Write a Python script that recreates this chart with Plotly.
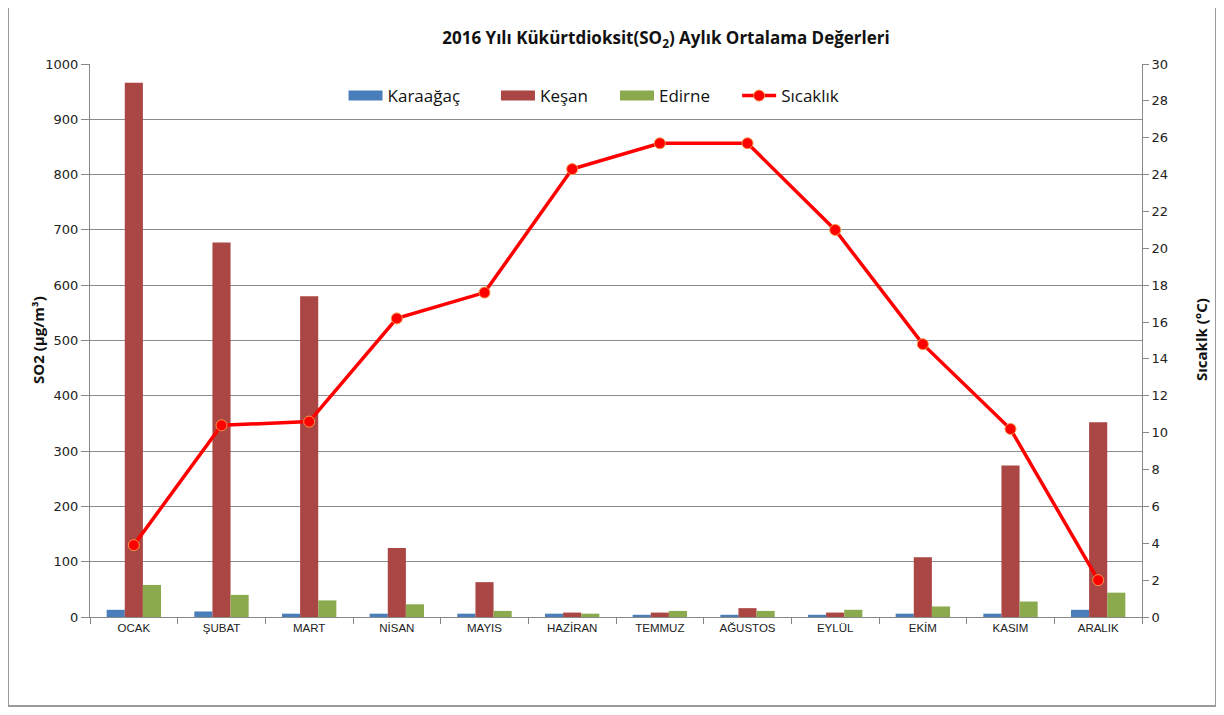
import plotly.graph_objects as go

months = ["OCAK", "ŞUBAT", "MART", "NİSAN", "MAYIS", "HAZİRAN", "TEMMUZ",
          "AĞUSTOS", "EYLÜL", "EKİM", "KASIM", "ARALIK"]
karaagac = [13, 10, 6, 6, 6, 6, 4, 4, 4, 6, 6, 13]
kesan = [966, 677, 580, 125, 63, 8, 8, 16, 8, 108, 274, 352]
edirne = [58, 40, 30, 23, 11, 6, 11, 11, 13, 19, 28, 44]
sicaklik = [3.9, 10.4, 10.6, 16.2, 17.6, 24.3, 25.7, 25.7, 21.0, 14.8, 10.2, 2.0]

left_ticks = list(range(0, 1001, 100))
right_ticks = list(range(0, 31, 2))

NB = "\u00a0"
series = [("Karaağaç", karaagac, "#4A7EBB", 7),
          ("Keşan", kesan, "#AA4643", 5),
          ("Edirne", edirne, "#8BAA4E", 5)]

fig = go.Figure()
for name, vals, col, pad in series:
    fig.add_trace(go.Bar(x=months, y=vals, name=name, marker_color=col,
                         marker_line_width=0, showlegend=False, legendgroup=name))
# legend swatches (wide rectangles like the reference)
for name, vals, col, pad in series:
    fig.add_trace(go.Scatter(x=[months[0]], y=[None], name=name + NB * pad, mode="lines",
                             line=dict(color=col, width=10), legendgroup=name))
fig.add_trace(go.Scatter(x=months, y=sicaklik, name="Sıcaklık", yaxis="y2",
                         mode="lines+markers",
                         line=dict(color="#FF0000", width=3.5),
                         marker=dict(size=11, color="#FF0000",
                                     line=dict(color="#F79646", width=1))))

axis_font = dict(family="DejaVu Sans", size=13, color="#222222")
title_font = dict(family="Open Sans", size=15, color="#111111")

# page body has an 8px default margin, so offset the margins accordingly
fig.update_layout(
    width=1224, height=715,
    margin=dict(l=82, r=90, t=56, b=106),
    paper_bgcolor="white", plot_bgcolor="white",
    barmode="group", bargap=0.38, bargroupgap=0,
    title=dict(text="<b>2016 Yılı Kükürtdioksit(SO<sub>2</sub>) Aylık Ortalama Değerleri</b>",
               x=(666 - 8) / 1224, xanchor="center", y=1 - (38 - 8) / 715, yanchor="middle",
               font=dict(family="Open Sans", size=17, color="#111111")),
    xaxis=dict(type="category", range=[-0.5, 11.5], showgrid=False, showline=True,
               linecolor="#888888", linewidth=1, ticks="outside", tickson="boundaries",
               ticklen=6, tickcolor="#888888",
               tickfont=dict(family="Liberation Sans", size=11.5, color="#222222")),
    yaxis=dict(range=[0, 1000], tickvals=left_ticks, showgrid=True, gridcolor="#8C8C8C",
               gridwidth=1, showline=True, linecolor="#888888", ticks="outside",
               ticklen=8, tickcolor="#888888", tickfont=axis_font, zeroline=False),
    yaxis2=dict(range=[0, 30], tickvals=right_ticks, overlaying="y", side="right",
                showgrid=False, showline=True, linecolor="#888888", ticks="outside",
                ticklen=6, tickcolor="#888888", tickfont=axis_font, zeroline=False),
    annotations=[
        dict(text="<b>SO2 (µg/m³)</b>", xref="paper", yref="paper",
             x=(38 - 90) / 1052, y=(617 - 340) / 553, textangle=-90,
             showarrow=False, xanchor="center", yanchor="middle", font=title_font),
        dict(text="<b>Sıcaklk (°C)</b>", xref="paper", yref="paper",
             x=(1201 - 90) / 1052, y=(617 - 340) / 553, textangle=-90,
             showarrow=False, xanchor="center", yanchor="middle", font=title_font),
    ],
    legend=dict(orientation="h", x=0.241, y=0.942, xanchor="left", yanchor="middle",
                bgcolor="rgba(255,255,255,0)", itemwidth=34,
                font=dict(family="Open Sans", size=17, color="#111111")),
    shapes=[dict(type="rect", xref="paper", yref="paper",
                 x0=(8 - 90) / 1052, x1=(1216 - 90) / 1052,
                 y0=(617 - 706) / 553, y1=(617 - 6) / 553,
                 line=dict(color="#9A9A9A", width=2), layer="below")],
)

fig.write_html("out.html")
